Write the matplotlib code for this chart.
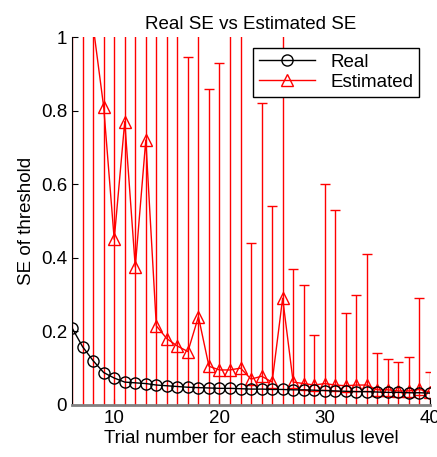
"""Real SE vs Estimated SE."""

import matplotlib
matplotlib.use("Agg")
import matplotlib.pyplot as plt
from matplotlib.lines import Line2D

plt.rcParams['font.family'] = ['Liberation Sans', 'DejaVu Sans']

TRIALS = list(range(6, 41))

REAL_SE = [0.209, 0.158, 0.120, 0.088, 0.073, 0.062, 0.060, 0.058, 0.054, 0.052,
           0.050, 0.048, 0.047, 0.046, 0.045, 0.045, 0.044, 0.043, 0.043, 0.042,
           0.042, 0.041, 0.041, 0.040, 0.039, 0.038, 0.037, 0.036, 0.036, 0.035,
           0.034, 0.034, 0.033, 0.033, 0.032]

EST_SE = [1.30, 1.15, 1.03, 0.81, 0.45, 0.77, 0.375, 0.72, 0.215, 0.18,
          0.16, 0.145, 0.24, 0.105, 0.095, 0.095, 0.10, 0.07, 0.078, 0.062,
          0.29, 0.062, 0.058, 0.054, 0.058, 0.054, 0.052, 0.054, 0.054, 0.041,
          0.041, 0.038, 0.038, 0.042, 0.035]

# upper end of each error bar (values above 1 run off the top)
EST_TOP = [3.0, 3.0, 3.0, 3.0, 3.0, 3.0, 3.0, 3.0, 3.0, 3.0,
           3.0, 0.946, 3.0, 0.86, 0.93, 3.0, 3.0, 0.44, 0.82, 0.54,
           3.0, 0.37, 0.326, 0.19, 0.60, 0.53, 0.25, 0.30, 0.41, 0.142,
           0.126, 0.117, 0.131, 0.29, 0.09]

EST_ERR = [t - v for t, v in zip(EST_TOP, EST_SE)]

FS = 13.5

fig = plt.figure(figsize=(4.37, 4.57), dpi=100)
ax = fig.add_axes([0.165, 0.114, 0.819, 0.805])

ax.plot(TRIALS, REAL_SE, color='black', lw=1, marker='o', ms=8,
        mfc='none', mec='black', zorder=3)
ax.errorbar(TRIALS, EST_SE, yerr=EST_ERR, color='red', ecolor='red',
            elinewidth=1, capsize=3.5, lw=1, marker='^', ms=9,
            mfc='none', mec='red', zorder=2)

ax.set_xlim(6, 40)
ax.set_ylim(0, 1)
ax.set_xticks([10, 20, 30, 40])
ax.set_yticks([0, 0.2, 0.4, 0.6, 0.8, 1])
ax.set_yticklabels(['0', '0.2', '0.4', '0.6', '0.8', '1'])
ax.tick_params(direction='in', labelsize=FS, length=4)

ax.spines['top'].set_visible(False)
ax.spines['right'].set_visible(False)
ax.spines['bottom'].set_color('#808080')
ax.spines['bottom'].set_linewidth(2)

ax.set_xlabel("Trial number for each stimulus level", fontsize=FS, labelpad=2)
ax.set_ylabel("SE of threshold", fontsize=FS)
ax.set_title("Real SE vs Estimated SE", fontsize=FS)

handles = [
    Line2D([], [], color='black', lw=1, marker='o', ms=8, mfc='none'),
    Line2D([], [], color='red', lw=1, marker='^', ms=9, mfc='none'),
]
leg = ax.legend(handles, ['Real', 'Estimated'], loc='upper right', fontsize=FS,
                fancybox=False, framealpha=1, edgecolor='black',
                borderaxespad=0.6, handlelength=3.0, borderpad=0.3,
                labelspacing=0.15)
leg.get_frame().set_linewidth(1)

fig.savefig("out.png")
